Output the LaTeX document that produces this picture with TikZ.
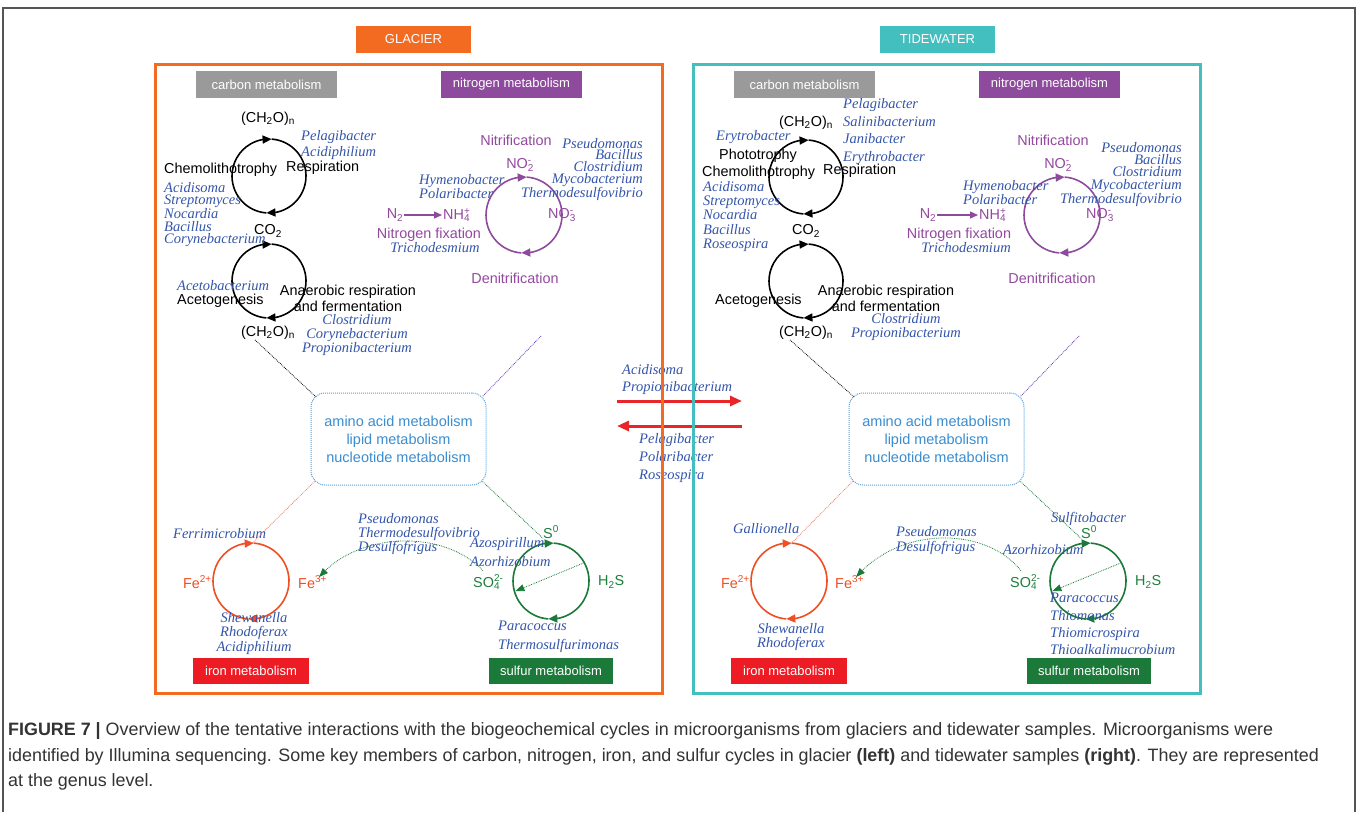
\documentclass[tikz,border=0pt]{standalone}
\usepackage{fontspec}
\setmainfont{Liberation Sans}
\newfontfamily\specfont{Liberation Serif}
\usetikzlibrary{arrows.meta,bending}
\definecolor{glac}{HTML}{F26B21}
\definecolor{tide}{HTML}{42BFBE}
\definecolor{cgray}{HTML}{9A9A9A}
\definecolor{npurp}{HTML}{8E4A9C}
\definecolor{ntext}{HTML}{9448A0}
\definecolor{ibox}{HTML}{ED1C24}
\definecolor{itext}{HTML}{F04E23}
\definecolor{sbox}{HTML}{1B7A3A}
\definecolor{stext}{HTML}{1E7F3C}
\definecolor{spblue}{HTML}{3355AA}
\definecolor{hubtext}{HTML}{3A8DD0}
\definecolor{hubline}{HTML}{5AA0DA}
\definecolor{redarr}{HTML}{E8262A}
\definecolor{captgray}{HTML}{333333}
\definecolor{framegray}{HTML}{555555}
\newcommand\chs[2]{\rlap{\textsubscript{#1}}\textsuperscript{#2}}
\newcommand\drawcycle[3]{%
  \draw[cyc,#2,tip] ([shift={(180:#3)}]#1) arc (180:86:#3);
  \draw[cyc,#2,tip] ([shift={(86:#3)}]#1) arc (86:-94:#3);
  \draw[cyc,#2] ([shift={(-94:#3)}]#1) arc (-94:-180:#3);}
\tikzset{
  lab/.style={font=\fontsize{14.4}{16}\selectfont, inner sep=0pt, align=center},
  spc/.style={font=\specfont\itshape\fontsize{14.5}{#1}\selectfont, text=spblue, inner sep=0pt},
  spc/.default=14.5,
  hdrbox/.style={font=\fontsize{13}{15}\selectfont, text=white, inner sep=0pt, minimum height=27pt},
  cyc/.style={line width=1.6pt},
  tip/.style={-{Triangle[length=9pt,width=8pt,flex]}},
  link/.style={densely dotted, line width=0.8pt},
  panel/.style={line width=3pt},
  hub/.style={draw=hubline, densely dotted, line width=1pt, rounded corners=14pt,
    minimum width=175pt, minimum height=92pt, text=hubtext, align=center,
    font=\fontsize{14.5}{18}\selectfont},
  redarrow/.style={draw=redarr, line width=3pt, -{Triangle[length=12pt,width=10pt]}},
  captext/.style={anchor=west, inner sep=0pt, text=captgray, font=\fontsize{17.9}{19}\selectfont},
}
\begin{document}
\begin{tikzpicture}[x=1pt,y=-1pt]
\useasboundingbox (0,0) rectangle (1357,812);
\fill[white] (0,0) rectangle (1357,812);
\draw[framegray, line width=1.5pt] (3,812) -- (3,8) -- (1355,8) -- (1355,812);

% titles
\node[hdrbox, fill=glac, minimum width=115pt] (glacier) at (413.5,39.5) {GLACIER};
\node[hdrbox, fill=tide, minimum width=115pt] (tidewater) at (937.5,39.5) {TIDEWATER};

% ===== middle arrows =====
\coordinate (raL) at (617,401); \coordinate (raR) at (742,401);
\coordinate (laR) at (742,426); \coordinate (laL) at (617,426);
\draw[redarrow] (raL) -- (raR);
\draw[redarrow] (laR) -- (laL);
\node[spc=17, anchor=west, align=left] (midTop) at (622,379.5) {Acidisoma\\Propionibacterium};
\node[spc=18, anchor=west, align=left] (midBot) at (639,458) {Pelagibacter\\Polaribacter\\Roseospira};

% ===== LEFT PANEL =====
\node[hdrbox, fill=cgray, minimum width=141pt] (carbL) at (266.5,84.5) {carbon metabolism};
\node[hdrbox, fill=npurp, minimum width=141pt] (nitL) at (511.5,84.5) {nitrogen metabolism};
% carbon
\coordinate (c1L) at (269,176); \coordinate (c2L) at (269,281);
\drawcycle{c1L}{black}{37pt}
\drawcycle{c2L}{black}{37pt}
\node[lab] (ch2oTL) at (268,119) {(CH\textsubscript{2}O)\textsubscript{n}};
\node[spc=16, anchor=west, align=left] (pelL) at (301,145) {Pelagibacter\\Acidiphilium};
\node[lab, anchor=west] (chemoL) at (164,170) {Chemolithotrophy};
\node[lab, anchor=west] (respL) at (286,168) {Respiration};
\node[spc=12.3, anchor=west, align=left] (spLL) at (164,214.5) {Acidisoma\\Streptomyces\\Nocardia\\Bacillus\\Corynebacterium};
\node[lab] (co2L) at (268,231) {CO\textsubscript{2}};
\node[spc, anchor=west] (acbL) at (177,286) {Acetobacterium};
\node[lab, anchor=west] (acgL) at (177,301) {Acetogenesis};
\node[lab] (anaL) at (348,298) {Anaerobic respiration\\and fermentation};
\node[lab] (ch2oBL) at (268,333) {(CH\textsubscript{2}O)\textsubscript{n}};
\node[spc=14, align=center] (clL) at (357,335) {Clostridium\\Corynebacterium\\Propionibacterium};
% nitrogen
\coordinate (nL) at (524,215);
\drawcycle{nL}{npurp}{38pt}
\node[lab, text=ntext] (nitrL) at (516,140) {Nitrification};
\node[lab, text=ntext] (no2L) at (519,165) {NO\chs{2}{-}};
\node[spc=11.8, anchor=east, align=right] (psL) at (643,169.5) {Pseudomonas\\Bacillus\\Clostridium\\Mycobacterium\\Thermodesulfovibrio};
\node[spc=14, anchor=west, align=left] (hymL) at (419,187) {Hymenobacter\\Polaribacter};
\node[lab, text=ntext] (n2L) at (395,215) {N\textsubscript{2}};
\node[lab, text=ntext, anchor=west] (nh4L) at (443,215) {NH\chs{4}{+}};
\node[lab, text=ntext, anchor=west] (no3L) at (548,215) {NO\chs{3}{-}};
\draw[npurp, line width=1.2pt, -{Triangle[length=8pt,width=7pt]}, shorten <=1pt, shorten >=1pt] (n2L.east) -- (nh4L.west);
\node[lab, text=ntext] (nfixL) at (429,235) {Nitrogen fixation};
\node[spc] (triL) at (435,248) {Trichodesmium};
\node[lab, text=ntext] (denL) at (515,278) {Denitrification};
% hub
\node[hub] (hubL) at (398.5,439) {amino acid metabolism\\lipid metabolism\\nucleotide metabolism};
% iron
\coordinate (feL) at (251,581);
\drawcycle{feL}{itext}{38pt}
\node[spc, anchor=west] (ferL) at (173,534) {Ferrimicrobium};
\node[lab, text=itext, anchor=east] (fe2L) at (212,582) {Fe\textsuperscript{2+}};
\node[lab, text=itext, anchor=west] (fe3L) at (298,582) {Fe\textsuperscript{3+}};
\node[spc=14.5, align=center] (sheL) at (254,633.5) {Shewanella\\Rhodoferax\\Acidiphilium};
\node[hdrbox, fill=ibox, minimum width=116pt, minimum height=26pt] (ironL) at (251,671) {iron metabolism};
% sulfur
\coordinate (sL) at (551,581);
\drawcycle{sL}{sbox}{38pt}
\node[spc=14, anchor=west, align=left] (psdL) at (358,534) {Pseudomonas\\Thermodesulfovibrio\\Desulfofrigus};
\node[lab, text=stext, anchor=west] (s0L) at (543,532) {S\textsuperscript{0}};
\node[spc=19, anchor=west, align=left] (azoL) at (470,552.5) {Azospirillum\\Azorhizobium};
\node[lab, text=stext, anchor=west] (so4L) at (473,582) {SO\chs{4}{2-}};
\node[lab, text=stext, anchor=west] (h2sL) at (598,582) {H\textsubscript{2}S};
\node[spc=19, anchor=west, align=left] (parL) at (498,636.5) {Paracoccus\\Thermosulfurimonas};
\node[hdrbox, fill=sbox, minimum width=124pt, minimum height=26pt] (sulfL) at (551,671) {sulfur metabolism};
\draw[link, sbox, -{Triangle[length=9pt,width=7pt]}] ([shift={(29:37pt)}]sL) -- ([shift={(196:37pt)}]sL);
\draw[link, sbox, -{Triangle[length=9pt,width=7pt]}] ([shift={(10,-4)}]so4L.north west) .. controls (445,530) and (360,530) .. ([shift={(-8,-5)}]fe3L.east);
% hub links
\coordinate (nlinkL) at (541,336);
\draw[link, black] ([xshift=-13pt]ch2oBL.south) -- ([shift={(5,4)}]hubL.north west);
\draw[link, npurp!70!blue] (nlinkL) -- ([shift={(-4,4)}]hubL.north east);
\draw[link, itext!80] ([shift={(4,-4)}]hubL.south west) -- ([shift={(88:38pt)}]feL);
\draw[link, sbox] ([shift={(-4,-4)}]hubL.south east) -- (s0L.south west);

% ===== RIGHT PANEL =====
\node[hdrbox, fill=cgray, minimum width=141pt] (carbR) at (804.5,84.5) {carbon metabolism};
\node[hdrbox, fill=npurp, minimum width=141pt] (nitR) at (1049.5,84.5) {nitrogen metabolism};
% carbon
\coordinate (c1R) at (806,177); \coordinate (c2R) at (806,281);
\drawcycle{c1R}{black}{37pt}
\drawcycle{c2R}{black}{37pt}
\node[lab] (ch2oTR) at (806,123) {(CH\textsubscript{2}O)\textsubscript{n}};
\node[spc=17.6, anchor=west, align=left] (pelR) at (843,131.5) {Pelagibacter\\Salinibacterium\\Janibacter\\Erythrobacter};
\node[spc, anchor=west] (eryR) at (716,137) {Erytrobacter};
\node[lab, anchor=west] (photR) at (719,156) {Phototrophy};
\node[lab, anchor=west] (chemoR) at (702,173) {Chemolithotrophy};
\node[lab, anchor=west] (respR) at (823,171) {Respiration};
\node[spc=14.25, anchor=west, align=left] (spLR) at (703,216.5) {Acidisoma\\Streptomyces\\Nocardia\\Bacillus\\Roseospira};
\node[lab] (co2R) at (806,231) {CO\textsubscript{2}};
\node[lab, anchor=west] (acgR) at (715,301) {Acetogenesis};
\node[lab] (anaR) at (886,298) {Anaerobic respiration\\and fermentation};
\node[lab] (ch2oBR) at (806,333) {(CH\textsubscript{2}O)\textsubscript{n}};
\node[spc=14, align=center] (clR) at (906,327) {Clostridium\\Propionibacterium};
% nitrogen
\coordinate (nR) at (1062,215);
\drawcycle{nR}{npurp}{38pt}
\node[lab, text=ntext] (nitrR) at (1053,140) {Nitrification};
\node[lab, text=ntext] (no2R) at (1057,165) {NO\chs{2}{-}};
\node[spc=12.2, anchor=east, align=right] (psR) at (1182,174.5) {Pseudomonas\\Bacillus\\Clostridium\\Mycobacterium\\Thermodesulfovibrio};
\node[spc=14, anchor=west, align=left] (hymR) at (963,193) {Hymenobacter\\Polaribacter};
\node[lab, text=ntext] (n2R) at (928,215) {N\textsubscript{2}};
\node[lab, text=ntext, anchor=west] (nh4R) at (979,215) {NH\chs{4}{+}};
\node[lab, text=ntext, anchor=west] (no3R) at (1086,215) {NO\chs{3}{-}};
\draw[npurp, line width=1.2pt, -{Triangle[length=8pt,width=7pt]}, shorten <=1pt, shorten >=1pt] (n2R.east) -- (nh4R.west);
\node[lab, text=ntext] (nfixR) at (959,235) {Nitrogen fixation};
\node[spc] (triR) at (966,248) {Trichodesmium};
\node[lab, text=ntext] (denR) at (1052,278) {Denitrification};
% hub
\node[hub] (hubR) at (936.5,439) {amino acid metabolism\\lipid metabolism\\nucleotide metabolism};
% iron
\coordinate (feR) at (789,581);
\drawcycle{feR}{itext}{38pt}
\node[spc, anchor=west] (galR) at (733,529) {Gallionella};
\node[lab, text=itext, anchor=east] (fe2R) at (750,582) {Fe\textsuperscript{2+}};
\node[lab, text=itext, anchor=west] (fe3R) at (835,582) {Fe\textsuperscript{3+}};
\node[spc=14, align=center] (sheR) at (791,637) {Shewanella\\Rhodoferax};
\node[hdrbox, fill=ibox, minimum width=116pt, minimum height=26pt] (ironR) at (789,671) {iron metabolism};
% sulfur
\coordinate (sR) at (1088,581);
\drawcycle{sR}{sbox}{38pt}
\node[spc=15, anchor=west, align=left] (psdR) at (896,540.5) {Pseudomonas\\Desulfofrigus};
\node[spc, anchor=west] (sulR) at (1051,519) {Sulfitobacter};
\node[lab, text=stext, anchor=west] (s0R) at (1081,532) {S\textsuperscript{0}};
\node[spc, anchor=west] (azoR) at (1003,550) {Azorhizobium};
\node[lab, text=stext, anchor=west] (so4R) at (1010,582) {SO\chs{4}{2-}};
\node[lab, text=stext, anchor=west] (h2sR) at (1135,582) {H\textsubscript{2}S};
\node[spc=17.3, anchor=west, align=left] (parR) at (1050,624) {Paracoccus\\Thiomonas\\Thiomicrospira\\Thioalkalimucrobium};
\node[hdrbox, fill=sbox, minimum width=124pt, minimum height=26pt] (sulfR) at (1089,671) {sulfur metabolism};
\draw[link, sbox, -{Triangle[length=9pt,width=7pt]}] ([shift={(29:37pt)}]sR) -- ([shift={(196:37pt)}]sR);
\draw[link, sbox, -{Triangle[length=9pt,width=7pt]}] ([shift={(11,-4)}]so4R.north west) .. controls (985,526) and (900,526) .. ([shift={(-8,-5)}]fe3R.east);
% hub links
\coordinate (nlinkR) at (1079,336);
\draw[link, black] ([xshift=-16pt]ch2oBR.south) -- ([shift={(5,4)}]hubR.north west);
\draw[link, npurp!70!blue] (nlinkR) -- ([shift={(-4,4)}]hubR.north east);
\draw[link, itext!80] ([shift={(4,-4)}]hubR.south west) -- ([shift={(86:38pt)}]feR);
\draw[link, sbox] ([shift={(-4,-4)}]hubR.south east) -- (s0R.south west);

% panels
\draw[panel, glac] (155,64) rectangle (662,693);
\draw[panel, tide] (693,64) rectangle (1200,693);

% caption
\node[captext] (cap1) at (8,731) {\textbf{FIGURE 7 |} Overview of the tentative interactions with the biogeochemical cycles in microorganisms from glaciers and tidewater samples. Microorganisms were};
\node[captext] (cap2) at (8,757) {identified by Illumina sequencing. Some key members of carbon, nitrogen, iron, and sulfur cycles in glacier \textbf{(left)} and tidewater samples \textbf{(right)}. They are represented};
\node[captext] (cap3) at (8,782) {at the genus level.};
\end{tikzpicture}
\end{document}
